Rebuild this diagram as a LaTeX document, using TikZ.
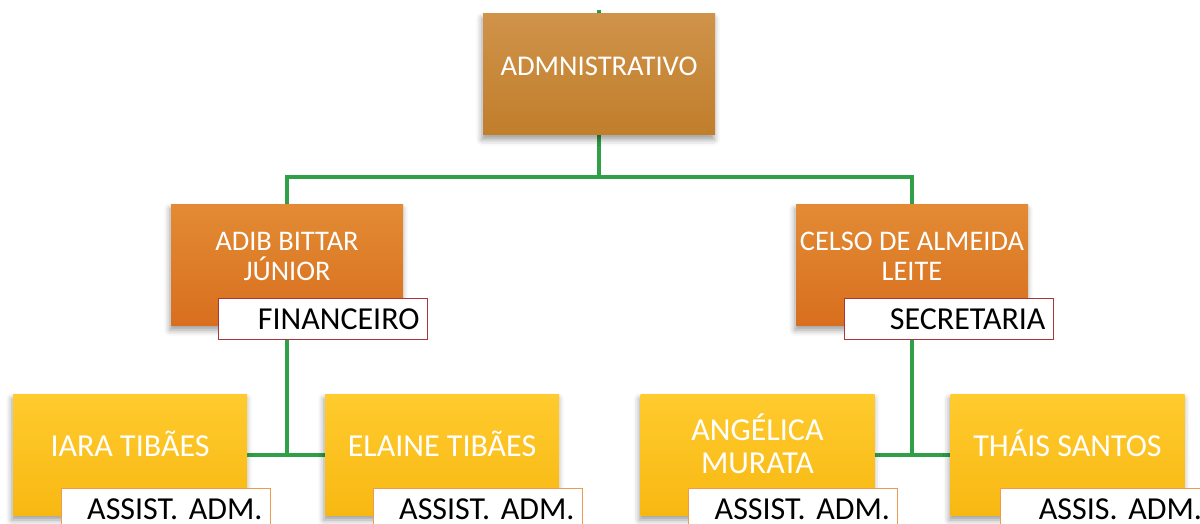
\documentclass[tikz,border=0pt]{standalone}
\usepackage{fontspec}
\setmainfont{Carlito}
\usetikzlibrary{shadows.blur,backgrounds}

\definecolor{admtop}{HTML}{CF934A}
\definecolor{admbot}{HTML}{C17E2B}
\definecolor{chieftop}{HTML}{E38B34}
\definecolor{chiefbot}{HTML}{D86F1E}
\definecolor{stafftop}{HTML}{FFCB2E}
\definecolor{staffbot}{HTML}{F8B812}
\definecolor{rolered}{HTML}{A8363A}
\definecolor{roleorange}{HTML}{EE9B4F}
\definecolor{linkgreen}{HTML}{2F9F48}

\begin{document}
\frenchspacing
\begin{tikzpicture}[x=0.5pt, y=-0.5pt,
		basic/.style  = {rectangle, inner sep=0pt, align=center, text=white, minimum width=116pt, minimum height=60.5pt, blur shadow={shadow xshift=-0.5pt, shadow yshift=-2.5pt, shadow opacity=40, shadow blur radius=3pt}},
		head/.style   = {basic, top color=admtop, bottom color=admbot, text height=1.2pt, font=\fontsize{14.3}{15}\selectfont},
		chief/.style  = {basic, top color=chieftop, bottom color=chiefbot, text height=16.1pt, font=\fontsize{14.2}{15}\selectfont},
		staff/.style  = {basic, top color=stafftop, bottom color=staffbot, minimum width=117pt, text height=2.3pt, font=\fontsize{16}{16.5}\selectfont},
		role/.style   = {rectangle, draw=rolered, fill=white, thin, anchor=north east, inner xsep=3.75pt, inner ysep=0pt, text width=97pt, minimum height=20.5pt, align=right, font=\fontsize{16}{18}\selectfont},
		link/.style   = {draw=linkgreen, line width=2pt}]
		
		\useasboundingbox (0,0) rectangle (1200,524);
		\clip (0,0) rectangle (1200,524);
		
		% top of the chart
		\node[head] (adm) at (599,74) {ADMNISTRATIVO};
		
		% the two sections
		\node[chief] (adib) at (287,264.5) {ADIB BITTAR\\JÚNIOR};
		\node[chief] (celso) at (912,264.5) {CELSO DE ALMEIDA\\LEITE};
		
		% assistants, bottom row
		\node[staff] (iara) at (130,454.5) {IARA TIBÃES};
		\node[staff] (elaine) at (442,454.5) {ELAINE TIBÃES};
		\node[staff, text height=18.8pt] (angelica) at (757.5,454.5) {ANGÉLICA\\MURATA};
		\node[staff] (thais) at (1067.5,454.5) {THÁIS SANTOS};
		
		% job titles, hanging off the lower right corners
		\begin{scope}[every node/.style={role}]
		\node (fin) at ([xshift=12pt,yshift=13.5pt]adib.south east) {FINANCEIRO};
		\node (sec) at ([xshift=12.5pt,yshift=13.5pt]celso.south east) {SECRETARIA};
		\end{scope}
		
		\begin{scope}[every node/.style={role, draw=roleorange}]
		\foreach \who in {iara,elaine,angelica}
		\node (r\who) at ([xshift=11.5pt,yshift=13.5pt]\who.south east) {ASSIST. ADM.};
		\node (rthais) at ([xshift=12.5pt,yshift=13.5pt]thais.south east) {ASSIS. ADM.};
		\end{scope}
		
		% green lines behind the boxes
		\begin{scope}[on background layer]
		\coordinate (stub) at (599,10);
		\draw[link] (stub) -- (adm.north);
		
		\foreach \who in {adib,celso}
		\draw[link] (adm.south) -- ++(0,42) -| (\who.north);
		
		\draw[link] (adib.south) -- (adib.south |- iara.east);
		\draw[link] (iara.east) -- (elaine.west);
		
		\draw[link] (celso.south) -- (celso.south |- angelica.east);
		\draw[link] (angelica.east) -- (thais.west);
		\end{scope}
		
	\end{tikzpicture}
\end{document}
